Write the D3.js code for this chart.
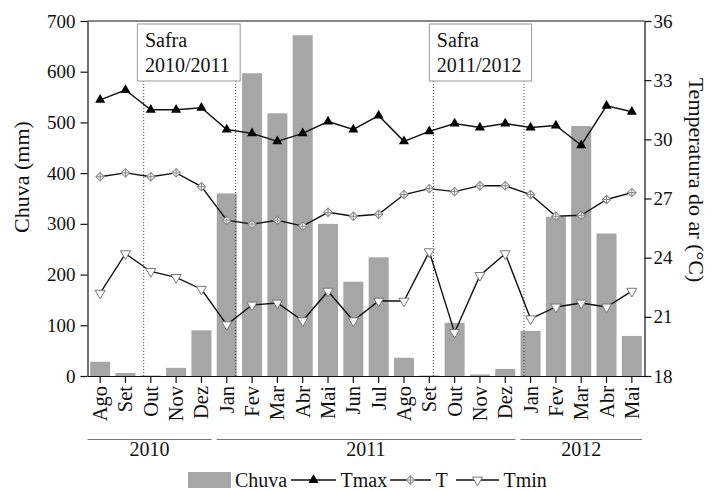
<!DOCTYPE html>
<html>
<head>
<meta charset="utf-8">
<script src="https://cdn.jsdelivr.net/npm/d3@7"></script>
<style>
  body { margin: 0; background: #fff; }
  svg text { font-family: "Liberation Serif", "DejaVu Serif", serif; fill: #111; }
</style>
</head>
<body>
<svg id="chart" width="711" height="490"></svg>
<script>
// months Ago/2010 .. Mai/2012
const months = ["Ago","Set","Out","Nov","Dez","Jan","Fev","Mar","Abr","Mai","Jun","Jul",
                "Ago","Set","Out","Nov","Dez","Jan","Fev","Mar","Abr","Mai"]
const chuva = [28, 6, 1, 16, 90, 360, 597, 518, 672, 300, 186, 234,
               36, 1, 105, 3, 14, 89, 314, 493, 281, 79]
const tmax = [32.0, 32.5, 31.5, 31.5, 31.6, 30.5, 30.3, 29.9, 30.3, 30.9, 30.5, 31.2,
              29.9, 30.4, 30.8, 30.6, 30.8, 30.6, 30.7, 29.7, 31.7, 31.4]
const tmed = [28.1, 28.3, 28.1, 28.3, 27.6, 25.9, 25.7, 25.9, 25.6, 26.3, 26.1, 26.2,
              27.2, 27.5, 27.35, 27.65, 27.65, 27.2, 26.1, 26.15, 26.95, 27.3]
const tmin = [22.2, 24.2, 23.3, 23.0, 22.4, 20.6, 21.6, 21.7, 20.8, 22.3, 20.8, 21.8,
              21.8, 24.3, 20.2, 23.1, 24.2, 20.9, 21.5, 21.7, 21.5, 22.3]
const years = ["2010", "2011", "2012"]
const yearFirst = [0, 5, 17]
const yearLast = [4, 16, 21]
const safraLabels = [["Safra", "2010/2011"], ["Safra", "2011/2012"]]
const safraStart = [1.72, 13.16]   // month index of the dotted lines
const safraEnd = [5.35, 16.74]
const leftTicks = [0, 100, 200, 300, 400, 500, 600, 700]
const rightTicks = [18, 21, 24, 27, 30, 33, 36]

var svg = d3.select('#chart')
var pLeft = 87.5, pRight = 644.5, pTop = 21, pBottom = 376

var x = d3.scaleBand()
    .domain(d3.range(months.length))
    .range([pLeft, pRight])
    .paddingInner(0.21)
    .paddingOuter(0.105)
var bw = x.bandwidth()
var cx = i => x(i) + bw / 2
// fractional month index -> px
var xi = d3.scaleLinear().domain([0, months.length - 1]).range([cx(0), cx(months.length - 1)])

var yL = d3.scaleLinear().domain([0, 700]).range([pBottom, pTop])
var yR = d3.scaleLinear().domain([18, 36]).range([pBottom, pTop])

// bars
svg.append('g').selectAll('rect')
    .data(chuva)
    .enter()
    .append('rect')
    .attr('x', (d, i) => x(i))
    .attr('width', bw)
    .attr('y', d => yL(d))
    .attr('height', d => pBottom - yL(d))
    .attr('fill', '#a6a6a6')

// safra dotted lines + boxes
var boxLeft = [1.47, 13.0], boxRight = [5.53, 17.04]
safraLabels.forEach((lab, k) => {
    [safraStart[k], safraEnd[k]].forEach(v => {
        svg.append('line')
            .attr('x1', xi(v)).attr('x2', xi(v))
            .attr('y1', 81).attr('y2', pBottom)
            .attr('stroke', '#444').attr('stroke-width', 1)
            .attr('stroke-dasharray', '1,2')
    })
    var bx = xi(boxLeft[k]), bx2 = xi(boxRight[k])
    svg.append('rect')
        .attr('x', bx).attr('y', 24)
        .attr('width', bx2 - bx).attr('height', 57)
        .attr('fill', '#fff').attr('stroke', '#999').attr('stroke-width', 1)
    svg.append('text').attr('x', bx + 7.5).attr('y', 47).style('font-size', '20px').text(lab[0])
    svg.append('text').attr('x', bx + 7.5).attr('y', 72).style('font-size', '20px').text(lab[1])
})

// temperature lines
var line = d3.line().x((d, i) => cx(i)).y(d => yR(d))
;[tmax, tmed, tmin].forEach(s => {
    svg.append('path')
        .attr('d', line(s))
        .attr('fill', 'none')
        .attr('stroke', '#111')
        .attr('stroke-width', 1.4)
})

var triUp = d3.symbol().type(d3.symbolTriangle).size(44)
var diamond = d3.symbol().type(d3.symbolSquare).size(36)

function markTmax(g, px, py) {
    g.append('path').attr('d', triUp()).attr('transform', `translate(${px},${py})`)
        .attr('fill', '#000')
}
function markT(g, px, py) {
    g.append('path').attr('d', diamond()).attr('transform', `translate(${px},${py}) rotate(45)`)
        .attr('fill', '#fff').attr('stroke', '#888').attr('stroke-width', 1)
    g.append('path').attr('d', `M${px - 4.2},${py}H${px + 4.2}M${px},${py - 4.2}V${py + 4.2}`)
        .attr('stroke', '#888').attr('stroke-width', 1)
}
function markTmin(g, px, py) {
    g.append('path').attr('d', triUp()).attr('transform', `translate(${px},${py}) rotate(180)`)
        .attr('fill', '#fff').attr('stroke', '#777').attr('stroke-width', 1)
}
var gm = svg.append('g')
tmax.forEach((d, i) => markTmax(gm, cx(i), yR(d)))
tmed.forEach((d, i) => markT(gm, cx(i), yR(d)))
tmin.forEach((d, i) => markTmin(gm, cx(i), yR(d)))

// axes
var axL = svg.append('g')
    .attr('transform', `translate(${pLeft},0)`)
    .call(d3.axisLeft(yL).tickValues(leftTicks).tickSize(7).tickSizeOuter(0).tickPadding(5))
var axR = svg.append('g')
    .attr('transform', `translate(${pRight},0)`)
    .call(d3.axisRight(yR).tickValues(rightTicks).tickSize(7).tickSizeOuter(0).tickPadding(2))
var axB = svg.append('g')
    .attr('transform', `translate(0,${pBottom})`)
    .call(d3.axisBottom(x).tickFormat(i => months[i]).tickSize(7).tickSizeOuter(0))

;[axL, axR, axB].forEach(a => {
    a.attr('font-family', null)
    a.selectAll('text').style('font-size', '19px')
    a.selectAll('path, line').attr('stroke', '#111').attr('stroke-width', 1.2)
})
axB.selectAll('text')
    .attr('transform', 'rotate(-90)')
    .attr('x', -10).attr('y', 0).attr('dy', '0.34em')
    .style('text-anchor', 'end')
    .style('font-size', '20.5px')

// top border
svg.append('line')
    .attr('x1', pLeft).attr('x2', pRight).attr('y1', pTop).attr('y2', pTop)
    .attr('stroke', '#111').attr('stroke-width', 1.2)

// axis titles
svg.append('text')
    .attr('transform', 'translate(29,177) rotate(-90)')
    .style('text-anchor', 'middle').style('font-size', '22px')
    .text('Chuva (mm)')
svg.append('text')
    .attr('transform', 'translate(689,180) rotate(90)')
    .style('text-anchor', 'middle').style('font-size', '22px')
    .text('Temperatura do ar (°C)')

// year groups
years.forEach((yr, k) => {
    var a = k === 0 ? pLeft : x(yearFirst[k]) - (x.step() - bw) / 2 + 2.5
    var b = x(yearLast[k]) + bw + (x.step() - bw) / 2 - 2.5
    svg.append('line')
        .attr('x1', a).attr('x2', b).attr('y1', 439.5).attr('y2', 439.5)
        .attr('stroke', '#777').attr('stroke-width', 1)
    svg.append('text')
        .attr('x', (a + b) / 2).attr('y', 455.5)
        .style('text-anchor', 'middle').style('font-size', '20px')
        .text(yr)
})

// legend
var lg = svg.append('g')
var ly = 480
lg.append('rect').attr('x', 188).attr('y', 472).attr('width', 43).attr('height', 16).attr('fill', '#a6a6a6')
lg.append('text').attr('x', 235).attr('y', 487).style('font-size', '20px').text('Chuva')
var items = [["Tmax", 291, 336, markTmax], ["T", 390, 431, markT], ["Tmin", 456, 499, markTmin]]
items.forEach(it => {
    lg.append('line').attr('x1', it[1]).attr('x2', it[2]).attr('y1', ly).attr('y2', ly)
        .attr('stroke', '#111').attr('stroke-width', 1.4)
    it[3](lg, (it[1] + it[2]) / 2, ly)
    lg.append('text').attr('x', it[2] + 4.5).attr('y', 487).style('font-size', '20px').text(it[0])
})
</script>
</body>
</html>
